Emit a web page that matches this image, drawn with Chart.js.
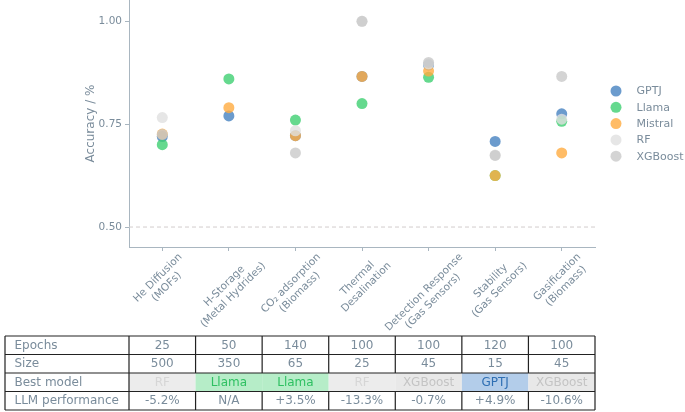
<!DOCTYPE html>
<html>
<head>
<meta charset="utf-8">
<script src="https://cdn.jsdelivr.net/npm/chart.js@4"></script>
<style>
  html, body { margin: 0; padding: 0; background: #fff; }
  #wrap { width: 685px; height: 412px; position: relative; }
</style>
</head>
<body>
<div id="wrap"><canvas id="chart" width="685" height="412"></canvas></div>
<script>
// categories (x axis) and per-model accuracies
const categories = [
  ['He Diffusion', '(MOFs)'],
  ['H-Storage', '(Metal Hydrides)'],
  ['CO₂ adsorption', '(Biomass)'],
  ['Thermal', 'Desalination'],
  ['Detection Response', '(Gas Sensors)'],
  ['Stability', '(Gas Sensors)'],
  ['Gasification', '(Biomass)']
];
const models = ['GPTJ', 'Llama', 'Mistral', 'RF', 'XGBoost'];
const gptj    = [0.720, 0.770, 0.722, 0.866, 0.894, 0.708, 0.775];
const llama   = [0.700, 0.860, 0.760, 0.800, 0.864, 0.625, 0.757];
const mistral = [0.726, 0.790, 0.722, 0.866, 0.879, 0.625, 0.680];
const rf      = [0.766, null, 0.734, 1.000, 0.896, 0.675, 0.762];
const xgboost = [0.725, null, 0.680, 1.000, 0.900, 0.674, 0.866];
const yTicks = [0.50, 0.75, 1.00];

// table below the chart
const rowLabels = ['Epochs', 'Size', 'Best model', 'LLM performance'];
const epochs = [25, 50, 140, 100, 100, 120, 100];
const sizes = [500, 350, 65, 25, 45, 15, 45];
const bestModel = ['RF', 'Llama', 'Llama', 'RF', 'XGBoost', 'GPTJ', 'XGBoost'];
const llmPerf = ['-5.2%', 'N/A', '+3.5%', '-13.3%', '-0.7%', '+4.9%', '-10.6%'];

// styles
const font = 'DejaVu Sans';
const textCol = '#7a8c9b';
const axisCol = '#a9b6c0';
const colors = ['#4682c0', '#3ecf72', '#ffab40', '#e0e0e0', '#c9c9c9'];
const cellBg = { GPTJ: '#b3cdea', Llama: '#b6edc8', RF: '#ececec', XGBoost: '#e8e8e8' };
const cellText = { GPTJ: '#2f6fb3', Llama: '#2fc062', RF: '#d6d6d6', XGBoost: '#c4c4c4' };

const series = [gptj, llama, mistral, rf, xgboost];

const extras = {
  id: 'extras',
  beforeDatasetsDraw(chart) {
    const { ctx, chartArea } = chart;
    const y = chart.scales.y.getPixelForValue(0.5);
    ctx.save();
    ctx.strokeStyle = '#d2cccc';
    ctx.lineWidth = 1;
    ctx.setLineDash([4, 3]);
    ctx.beginPath();
    ctx.moveTo(chartArea.left, y);
    ctx.lineTo(chartArea.right, y);
    ctx.stroke();
    ctx.restore();
  },
  afterDraw(chart) {
    const { ctx, chartArea } = chart;
    const xs = chart.scales.x;
    ctx.save();

    // rotated category labels, lines centred like matplotlib
    const fs = 10.5, lh = 12.5, c45 = Math.SQRT1_2;
    ctx.font = fs + 'px ' + font;
    ctx.fillStyle = textCol;
    ctx.textAlign = 'center';
    ctx.textBaseline = 'middle';
    categories.forEach((lines, i) => {
      const w = Math.max(...lines.map(t => ctx.measureText(t).width));
      const h = (lines.length - 1) * lh + fs * 1.17;
      const cx = xs.getPixelForValue(i);
      const cy = chartArea.bottom + 4 + (w + h) * c45 / 2;
      ctx.save();
      ctx.translate(cx, cy);
      ctx.rotate(-Math.PI / 4);
      lines.forEach((t, j) => ctx.fillText(t, 0, -h / 2 + fs * 0.585 + j * lh));
      ctx.restore();
    });

    // legend
    ctx.font = '11px ' + font;
    ctx.textBaseline = 'middle';
    chart.data.datasets.forEach((ds, i) => {
      const cy = 91 + i * 16.3;
      ctx.fillStyle = ds.pointBackgroundColor;
      ctx.beginPath();
      ctx.arc(616, cy, 5.5, 0, Math.PI * 2);
      ctx.fill();
      ctx.fillStyle = textCol;
      ctx.textAlign = 'left';
      ctx.fillText(ds.label, 636.5, cy + 0.5);
    });

    // table
    const half = (xs.getPixelForValue(1) - xs.getPixelForValue(0)) / 2;
    const top = 336, rowH = 18.5, left = 5;
    const right = xs.getPixelForValue(categories.length - 1) + half;
    const rows = [epochs, sizes, bestModel, llmPerf];

    bestModel.forEach((m, i) => {
      const cx = xs.getPixelForValue(i);
      ctx.fillStyle = cellBg[m];
      ctx.fillRect(cx - half, top + rowH * 2, half * 2, rowH);
    });

    ctx.strokeStyle = '#222';
    ctx.lineWidth = 1.2;
    ctx.beginPath();
    for (let r = 0; r <= rows.length; r++) {
      ctx.moveTo(left, top + r * rowH);
      ctx.lineTo(right, top + r * rowH);
    }
    const edges = [left, chartArea.left];
    for (let i = 0; i < categories.length; i++) edges.push(xs.getPixelForValue(i) + half);
    edges.forEach((x, k) => {
      for (let r = 0; r < rows.length; r++) {
        if (r === 2 && k > 1 && k < edges.length - 1) continue;
        ctx.moveTo(x, top + r * rowH);
        ctx.lineTo(x, top + (r + 1) * rowH);
      }
    });
    ctx.stroke();

    ctx.font = '12px ' + font;
    rows.forEach((vals, r) => {
      const cy = top + r * rowH + rowH / 2 + 0.5;
      ctx.textAlign = 'left';
      ctx.fillStyle = textCol;
      ctx.fillText(rowLabels[r], 14.5, cy);
      ctx.textAlign = 'center';
      vals.forEach((v, i) => {
        ctx.fillStyle = r === 2 ? cellText[v] : textCol;
        ctx.fillText(String(v), xs.getPixelForValue(i), cy);
      });
    });
    ctx.restore();
  }
};

new Chart(document.getElementById('chart'), {
  type: 'line',
  data: {
    labels: categories,
    datasets: models.map((m, i) => ({
      label: m,
      data: series[i],
      order: models.length - i,
      showLine: false,
      backgroundColor: colors[i],
      borderColor: colors[i],
      pointBackgroundColor: colors[i] + 'cc',
      pointBorderWidth: 0,
      pointRadius: 5.5,
      pointHoverRadius: 5.5
    }))
  },
  options: {
    responsive: false,
    animation: false,
    clip: false,
    layout: { autoPadding: false, padding: { left: 80, top: 0, right: 90, bottom: 76 } },
    plugins: {
      legend: { display: false },
      tooltip: { enabled: false }
    },
    scales: {
      x: {
        offset: true,
        grid: { drawOnChartArea: false, drawTicks: true, tickLength: 4, tickColor: axisCol },
        border: { color: axisCol, width: 1 },
        ticks: { display: false },
        afterFit: s => { s.height = 89; s.paddingLeft = 0; s.paddingRight = 0; }
      },
      y: {
        min: 0.4515,
        max: 1.0517,
        afterBuildTicks: s => { s.ticks = yTicks.map(v => ({ value: v })); },
        grid: { drawOnChartArea: false, drawTicks: true, tickLength: 4, tickColor: axisCol },
        border: { color: axisCol, width: 1 },
        ticks: {
          color: textCol,
          font: { family: font, size: 10.5 },
          padding: 3,
          callback: v => v.toFixed(2)
        },
        title: {
          display: true,
          text: 'Accuracy / %',
          color: textCol,
          font: { family: font, size: 12 },
          padding: 4
        },
        afterFit: s => { s.width = 49; s.paddingTop = 0; s.paddingBottom = 0; }
      }
    }
  },
  plugins: [extras]
});
</script>
</body>
</html>
